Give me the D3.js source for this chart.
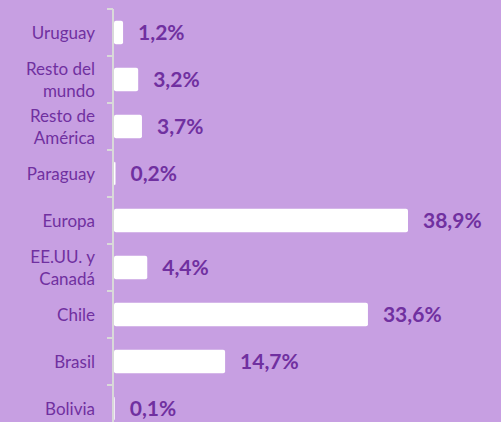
<!DOCTYPE html>
<html>
<head>
<meta charset="utf-8">
<script src="https://d3js.org/d3.v7.min.js"></script>
<style>
  body { margin: 0; background: #c79fe2; }
  svg { display: block; }
  .cat { font-family: Lato, sans-serif; font-size: 17px; fill: #7030a0; }
  .val { font-family: Lato, sans-serif; font-size: 21px; font-weight: bold; fill: #7030a0; }
</style>
</head>
<body>
<svg width="501" height="422"></svg>
<script>
// categories, top to bottom
var categories = ["Uruguay", "Resto del mundo", "Resto de América", "Paraguay", "Europa",
                  "EE.UU. y Canadá", "Chile", "Brasil", "Bolivia"];
var labelLines = [["Uruguay"], ["Resto del", "mundo"], ["Resto de", "América"], ["Paraguay"], ["Europa"],
                  ["EE.UU. y", "Canadá"], ["Chile"], ["Brasil"], ["Bolivia"]];
var values = [1.2, 3.2, 3.7, 0.2, 38.9, 4.4, 33.6, 14.7, 0.1];

var svg = d3.select("svg");
svg.append("rect").attr("width", 501).attr("height", 422).attr("fill", "#c79fe2");

var x0 = 114;
var x = d3.scaleLinear().domain([0, 38.9]).range([x0, 408]);
var y = d3.scaleBand().domain(categories).range([9, 432]).paddingInner(0.5).paddingOuter(0.25);
var step = y.step();

// axis line + ticks at band boundaries
svg.append("line")
    .attr("x1", 113).attr("x2", 113).attr("y1", 9).attr("y2", 432)
    .attr("stroke", "#d9d9d9").attr("stroke-width", 2);
var bounds = categories.map(c => y(c) - step * 0.25);
bounds.push(432);
svg.selectAll(".tick").data(bounds).enter().append("line")
    .attr("x1", 107).attr("x2", 113)
    .attr("y1", d => d).attr("y2", d => d)
    .attr("stroke", "#d9d9d9").attr("stroke-width", 2);

// bars
svg.selectAll(".bar").data(categories).enter().append("rect")
    .attr("x", x0)
    .attr("y", d => y(d))
    .attr("width", (d, i) => x(values[i]) - x0)
    .attr("height", y.bandwidth())
    .attr("rx", 2)
    .attr("fill", "#fff");

// value labels
svg.selectAll(".val").data(categories).enter().append("text")
    .attr("class", "val")
    .attr("x", (d, i) => x(values[i]) + 15)
    .attr("y", d => y(d) + y.bandwidth() / 2)
    .attr("dy", "0.36em")
    .text((d, i) => values[i].toFixed(1).replace(".", ",") + "%");

// category labels
var cat = svg.selectAll(".cat").data(categories).enter().append("text")
    .attr("class", "cat")
    .attr("text-anchor", "end")
    .attr("y", d => y(d) + y.bandwidth() / 2);
cat.each(function (d, i) {
    var lines = labelLines[i];
    var t = d3.select(this);
    lines.forEach((l, j) => {
        t.append("tspan")
            .attr("x", 95)
            .attr("dy", j === 0 ? (0.36 - (lines.length - 1) * 0.64) + "em" : "1.28em")
            .text(l);
    });
});
</script>
</body>
</html>
